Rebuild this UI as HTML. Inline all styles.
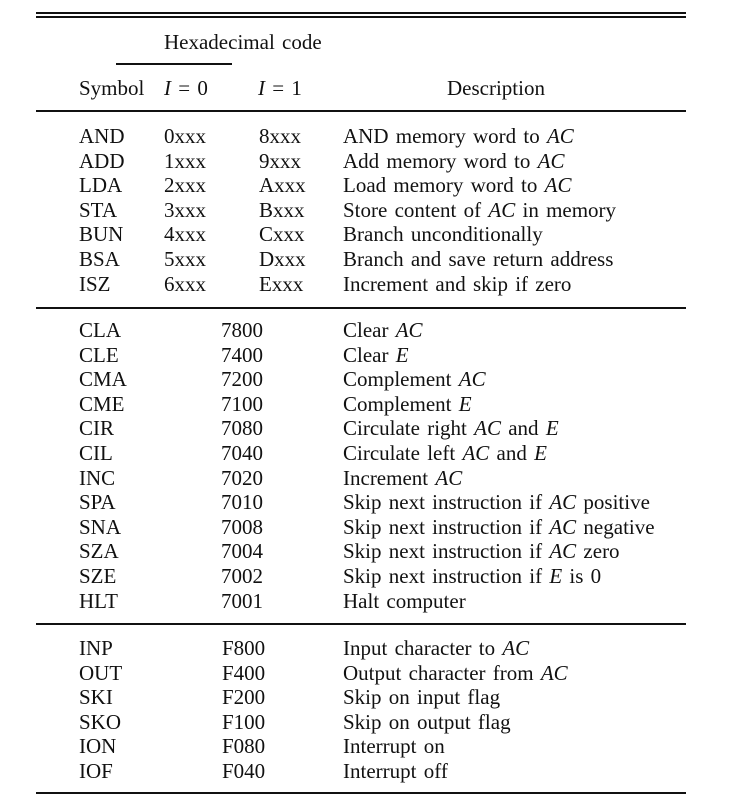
<!DOCTYPE html>
<html><head><meta charset="utf-8">
<style>
html,body{margin:0;padding:0;background:#fff;}
#t{position:relative;width:736px;height:797px;overflow:hidden;font-family:"Liberation Serif",serif;font-size:21px;word-spacing:2px;color:#111;}
.tx{position:absolute;line-height:24px;white-space:nowrap;}
.ln{position:absolute;left:36px;width:650px;background:#111;}
</style></head><body>
<div id="t">
<div class="ln" style="top:12px;height:2px"></div>
<div class="ln" style="top:16px;height:2px"></div>
<div class="tx" style="left:164px;top:30px">Hexadecimal code</div>
<div class="ln" style="left:116px;width:116px;top:63px;height:1.5px"></div>
<div class="tx" style="left:79px;top:76px">Symbol</div>
<div class="tx" style="left:164px;top:76px"><i>I</i> = 0</div>
<div class="tx" style="left:258px;top:76px"><i>I</i> = 1</div>
<div class="tx" style="left:447px;top:76px">Description</div>
<div class="ln" style="top:110px;height:2px"></div>
<div class="ln" style="top:307px;height:2px"></div>
<div class="ln" style="top:623px;height:2px"></div>
<div class="ln" style="top:792px;height:2px"></div>
</div>
<script>
const memSyms=["AND","ADD","LDA","STA","BUN","BSA","ISZ"];
const memI0=["0xxx","1xxx","2xxx","3xxx","4xxx","5xxx","6xxx"];
const memI1=["8xxx","9xxx","Axxx","Bxxx","Cxxx","Dxxx","Exxx"];
const memDesc=["AND memory word to <i>AC</i>","Add memory word to <i>AC</i>","Load memory word to <i>AC</i>","Store content of <i>AC</i> in memory","Branch unconditionally","Branch and save return address","Increment and skip if zero"];
const regSyms=["CLA","CLE","CMA","CME","CIR","CIL","INC","SPA","SNA","SZA","SZE","HLT"];
const regCodes=["7800","7400","7200","7100","7080","7040","7020","7010","7008","7004","7002","7001"];
const regDesc=["Clear <i>AC</i>","Clear <i>E</i>","Complement <i>AC</i>","Complement <i>E</i>","Circulate right <i>AC</i> and <i>E</i>","Circulate left <i>AC</i> and <i>E</i>","Increment <i>AC</i>","Skip next instruction if <i>AC</i> positive","Skip next instruction if <i>AC</i> negative","Skip next instruction if <i>AC</i> zero","Skip next instruction if <i>E</i> is 0","Halt computer"];
const ioSyms=["INP","OUT","SKI","SKO","ION","IOF"];
const ioCodes=["F800","F400","F200","F100","F080","F040"];
const ioDesc=["Input character to <i>AC</i>","Output character from <i>AC</i>","Skip on input flag","Skip on output flag","Interrupt on","Interrupt off"];
const T=document.getElementById('t');
const STEP=24.6;
function cell(html,left,top,name){
  const d=document.createElement('div');
  d.className='tx';
  d.style.left=left+'px';d.style.top=top+'px';
  d.innerHTML=html;
  
  
  T.appendChild(d);
}
memSyms.forEach((s,i)=>{
  const y=124+i*STEP;
  cell(s,79,y,'symbol-'+s.toLowerCase());
  cell(memI0[i],164,y,'code-i0-'+s.toLowerCase());
  cell(memI1[i],259,y,'code-i1-'+s.toLowerCase());
  cell(memDesc[i],343,y,'desc-'+s.toLowerCase());
});
regSyms.forEach((s,i)=>{
  const y=318+i*STEP;
  cell(s,79,y,'symbol-'+s.toLowerCase());
  cell(regCodes[i],221,y,'code-'+s.toLowerCase());
  cell(regDesc[i],343,y,'desc-'+s.toLowerCase());
});
ioSyms.forEach((s,i)=>{
  const y=636+i*STEP;
  cell(s,79,y,'symbol-'+s.toLowerCase());
  cell(ioCodes[i],222,y,'code-'+s.toLowerCase());
  cell(ioDesc[i],343,y,'desc-'+s.toLowerCase());
});
</script>
</body></html>
